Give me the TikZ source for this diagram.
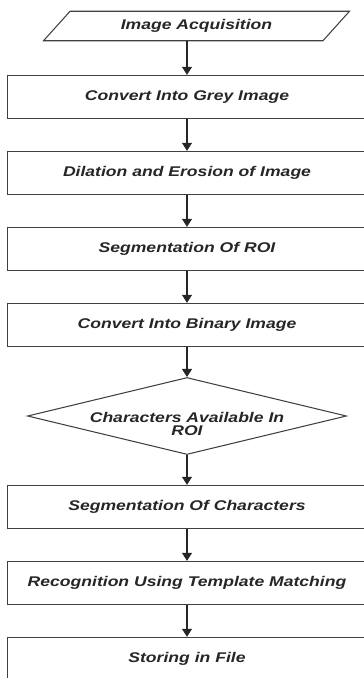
\documentclass[tikz,border=0pt]{standalone}
\usepackage{fontspec}
\setmainfont{Liberation Sans}[FakeStretch=1.25]
\usetikzlibrary{shapes.geometric, arrows.meta}
\tikzstyle{io} = [trapezium, trapezium left angle=48, trapezium right angle=132, trapezium stretches body, minimum width=9.18cm, inner ysep=7pt, text centered, draw=black!75, line width=0.9pt]
\tikzstyle{process} = [rectangle, minimum width=10.77cm, minimum height=1.3cm, text centered, draw=black!75, line width=0.9pt]
\tikzstyle{decision} = [diamond, minimum width=9.57cm, minimum height=2.31cm, inner sep=0pt, draw=black!75, line width=0.9pt]
\tikzstyle{arrow} = [line width=0.9pt, black!85, -{Triangle[length=2.4mm, width=3mm]}]

\begin{document}
\begin{tikzpicture}[node distance=2.28cm, font=\fontsize{12}{14}\selectfont\bfseries\itshape, text=black!85]
\clip (0,0) rectangle (10.92,-20.34);
\node (in1) [io] at (5.895,-0.78) {Image Acquisition};
\node (pro1) [process, below of=in1, xshift=-0.285cm, yshift=0.15cm] {Convert Into Grey Image};
\node (pro2) [process, below of=pro1] {Dilation and Erosion of Image};
\node (pro3) [process, below of=pro2] {Segmentation Of ROI};
\node (pro4) [process, below of=pro3] {Convert Into Binary Image};
\node (dec1) [decision, below of=pro4, yshift=-0.45cm, label={[align=center, yshift=-0.25cm]center:Characters Available In\\[-3pt]ROI}] {};
\node (pro5) [process, below of=dec1, yshift=-0.45cm] {Segmentation Of Characters};
\node (pro6) [process, below of=pro5] {Recognition Using Template Matching};
\node (pro7) [process, below of=pro6] {Storing in File};

\draw [arrow] (pro1 |- in1.south) -- (pro1);
\draw [arrow] (pro1) -- (pro2);
\draw [arrow] (pro2) -- (pro3);
\draw [arrow] (pro3) -- (pro4);
\draw [arrow] (pro4) -- (dec1);
\draw [arrow] (dec1) -- (pro5);
\draw [arrow] (pro5) -- (pro6);
\draw [arrow] (pro6) -- (pro7);
\end{tikzpicture}
\end{document}
